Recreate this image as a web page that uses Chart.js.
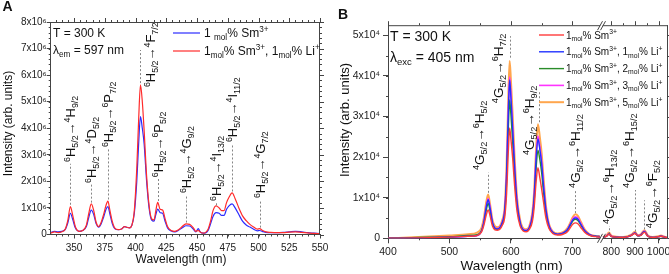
<!DOCTYPE html>
<html lang="en">
<head>
<meta charset="UTF-8">
<title>Sm3+ excitation and emission spectra</title>
<script src="https://cdn.jsdelivr.net/npm/chart.js"></script>
<style>
    body { margin: 0; background: #fff; }
    #wrap { position: relative; width: 669px; height: 274px; }
    #boxA { position: absolute; left: 0; top: 0; width: 330px; height: 274px; }
    #boxB { position: absolute; left: 330px; top: 0; width: 339px; height: 274px; }
</style>
</head>
<body>
<div id="wrap">
    <div id="boxA"><canvas id="chartA"></canvas></div>
    <div id="boxB"><canvas id="chartB"></canvas></div>
</div>
<script>
// ---------- panel A: excitation, intensity in 10^6 ----------
const wavelengthA = [331,334,337,340,343,345,347,349,351,354,357,360,362,364,366,368,370,372,374,376,377.5,379,381,383,386,389,391,393,395,397,399,401,402.5,404,405.5,407,409,411,413,415,416.5,418,420,422,424,426,429,432,435,438,441,444,447,449,451,452.5,455,457,459,461,463,465.5,468,470,472,474,476,478.5,481,484,487,490,493,496,499,501,503,506,510,515,520,525,530,535,540,545,550];
const smA =   [0.08,0.12,0.10,0.12,0.20,0.45,0.80,0.55,0.25,0.12,0.15,0.30,0.65,0.92,0.75,0.40,0.28,0.40,0.65,0.95,1.05,0.80,0.42,0.22,0.18,0.22,0.30,0.27,0.25,0.35,0.80,2.00,3.40,4.44,4.00,3.40,2.00,1.00,0.55,0.50,0.75,0.96,0.82,0.80,0.50,0.25,0.13,0.10,0.16,0.25,0.33,0.32,0.20,0.10,0.22,0.10,0.05,0.06,0.15,0.40,0.68,0.82,0.80,0.72,0.72,0.95,1.08,1.15,1.00,0.75,0.50,0.36,0.28,0.20,0.14,0.15,0.12,0.08,0.07,0.07,0.08,0.10,0.12,0.10,0.07,0.05,0.03];
const smLiA = [0.05,0.10,0.07,0.10,0.22,0.55,1.05,0.70,0.30,0.12,0.15,0.35,0.80,1.15,0.90,0.45,0.30,0.45,0.75,1.10,1.26,0.95,0.50,0.25,0.18,0.22,0.30,0.27,0.25,0.35,0.90,2.50,4.30,5.63,5.00,3.90,2.20,1.10,0.60,0.55,0.90,1.21,0.95,0.92,0.60,0.30,0.15,0.12,0.18,0.30,0.40,0.38,0.25,0.12,0.15,0.10,0.05,0.08,0.20,0.50,0.90,1.08,1.00,0.90,0.90,1.20,1.40,1.57,1.35,1.00,0.70,0.52,0.38,0.28,0.20,0.22,0.16,0.10,0.08,0.07,0.07,0.09,0.10,0.08,0.06,0.04,0.03];
const namesA = ['1 _{mol}% Sm^{3+}', '1_{mol}% Sm^{3+}, 1_{mol}% Li^{+}'];
const xTicksA = [350, 375, 400, 425, 450, 475, 500, 525, 550];
const yTicksA = [0, 1, 2, 3, 4, 5, 6, 7, 8];
// transitions: wavelength, dashed line from/to, text start (all data units)
const transitionsA = [
    { at: 347,   from: 1.12, to: 2.66, textAt: 2.73, dx: 0,  text: '^{6}H_{5/2}→^{4}H_{9/2}' },
    { at: 364,   from: 1.20, to: 1.90, textAt: 1.94, dx: 0,  text: '^{6}H_{5/2}→^{4}D_{5/2}' },
    { at: 377.5, from: 1.32, to: 3.25, textAt: 3.29, dx: 0,  text: '^{6}H_{5/2}→^{6}P_{7/2}' },
    { at: 404,   from: 5.70, to: 6.95, textAt: 5.55, dx: 10, text: '^{6}H_{5/2}→^{4}F_{7/2}' },
    { at: 418,   from: 1.26, to: 2.10, textAt: 2.16, dx: 0,  text: '^{6}H_{5/2}→^{6}P_{5/2}' },
    { at: 441,   from: 0.45, to: 1.50, textAt: 1.56, dx: 0,  text: '^{6}H_{5/2}→^{4}G_{9/2}' },
    { at: 465.5, from: 1.10, to: 1.22, textAt: 1.26, dx: 0,  text: '^{6}H_{5/2}→^{4}I_{13/2}' },
    { at: 478.5, from: 1.62, to: 3.42, textAt: 3.48, dx: 0,  text: '^{6}H_{5/2}→^{4}I_{11/2}' },
    { at: 501,   from: 0.26, to: 1.32, textAt: 1.37, dx: 0,  text: '^{6}H_{5/2}→^{4}G_{7/2}' }
];

// ---------- panel B: emission, intensity in 10^4 (755 = axis break) ----------
const wavelengthB = [400,450,500,530,545,552,556,560,563,566,570,574,578,582,586,590,593,596,598,600,603,606,610,615,620,625,630,635,638,641,644,647,650,653,657,662,668,676,685,692,697,701,705,709,714,720,728,738,745,755,765,780,790,800,820,850,870,885,900,912,925,940,955,975,1000,1010,1025,1040];
const li0B = [0,0.01,0.03,0.05,0.07,0.15,0.32,0.58,0.70,0.56,0.30,0.21,0.20,0.22,0.32,0.52,1.10,2.20,2.72,2.45,1.95,1.30,0.66,0.30,0.18,0.16,0.22,0.42,0.78,1.38,1.74,1.50,1.22,0.90,0.50,0.24,0.12,0.08,0.10,0.16,0.27,0.35,0.38,0.36,0.26,0.15,0.07,0.04,0.03,null,0.03,0.05,0.10,0.05,0.03,0.02,0.04,0.07,0.12,0.06,0.07,0.15,0.05,0.02,0.04,0.05,0.03,0.01];
const li1B = [0,0.01,0.03,0.05,0.07,0.17,0.40,0.78,0.95,0.75,0.39,0.25,0.23,0.26,0.39,0.70,1.57,3.20,3.90,3.48,2.65,1.76,0.88,0.39,0.21,0.19,0.26,0.56,1.05,1.95,2.45,2.20,1.85,1.30,0.70,0.31,0.15,0.10,0.13,0.21,0.35,0.46,0.50,0.47,0.34,0.19,0.09,0.05,0.04,null,0.03,0.05,0.11,0.05,0.03,0.02,0.04,0.07,0.13,0.06,0.08,0.17,0.05,0.02,0.04,0.05,0.03,0.01];
const li2B = [0,0.02,0.04,0.07,0.09,0.18,0.38,0.70,0.86,0.68,0.36,0.24,0.22,0.25,0.37,0.63,1.40,2.80,3.41,3.05,2.35,1.55,0.80,0.36,0.20,0.18,0.25,0.50,0.95,1.72,2.17,1.95,1.62,1.15,0.62,0.28,0.14,0.09,0.12,0.20,0.33,0.43,0.47,0.44,0.32,0.18,0.08,0.05,0.04,null,0.03,0.05,0.11,0.05,0.03,0.02,0.04,0.07,0.13,0.06,0.08,0.16,0.05,0.02,0.04,0.05,0.03,0.01];
const li3B = [0,0.01,0.03,0.05,0.07,0.18,0.42,0.80,0.98,0.78,0.40,0.26,0.24,0.27,0.40,0.72,1.60,3.25,3.97,3.55,2.70,1.80,0.90,0.40,0.22,0.20,0.27,0.58,1.08,2.00,2.52,2.25,1.90,1.35,0.72,0.32,0.15,0.10,0.13,0.22,0.36,0.48,0.53,0.50,0.36,0.20,0.09,0.05,0.04,null,0.03,0.06,0.12,0.06,0.03,0.02,0.04,0.08,0.14,0.07,0.09,0.18,0.06,0.02,0.04,0.06,0.03,0.01];
const li5B = [0,0.03,0.07,0.10,0.14,0.25,0.50,0.90,1.08,0.85,0.45,0.30,0.27,0.30,0.45,0.80,1.80,3.60,4.37,3.90,3.00,2.00,1.00,0.45,0.25,0.22,0.30,0.65,1.20,2.20,2.81,2.50,2.10,1.50,0.80,0.35,0.17,0.12,0.15,0.25,0.40,0.53,0.59,0.55,0.40,0.22,0.10,0.06,0.05,null,0.04,0.07,0.14,0.07,0.04,0.03,0.05,0.09,0.16,0.08,0.10,0.20,0.07,0.03,0.05,0.07,0.04,0.02];
const namesB = [
    '1_{mol}% Sm^{3+}',
    '1_{mol}% Sm^{3+}, 1_{mol}% Li^{+}',
    '1_{mol}% Sm^{3+}, 2_{mol}% Li^{+}',
    '1_{mol}% Sm^{3+}, 3_{mol}% Li^{+}',
    '1_{mol}% Sm^{3+}, 5_{mol}% Li^{+}'
];
const xTicksB = [400, 500, 600, 700, 800, 900, 1000];
const yTicksB = [0, 1, 2, 3, 4, 5];
const transitionsB = [
    { at: 563, from: 1.12, to: 1.62, textAt: 1.68, dx: -9,  text: '^{4}G_{5/2}→^{6}H_{5/2}' },
    { at: 598, from: 4.45, to: 4.98, textAt: 3.33, dx: -12, text: '^{4}G_{5/2}→^{6}H_{7/2}' },
    { at: 645, from: 2.86, to: 3.62, textAt: 2.05, dx: -10, text: '^{4}G_{5/2}→^{6}H_{9/2}' },
    { at: 705, from: 0.62, to: 1.19, textAt: 1.24, dx: 0,   text: '^{4}G_{5/2}→^{6}H_{11/2}' },
    { at: 790, from: 0.10, to: 0.30, textAt: 0.35, dx: 0,   text: '^{4}G_{5/2}→^{6}H_{13/2}' },
    { at: 900, from: 0.17, to: 1.19, textAt: 1.24, dx: -6,  text: '^{4}G_{5/2}→^{6}H_{15/2}' },
    { at: 940, from: 0.22, to: 0.94, textAt: 0.25, dx: 8,   text: '^{4}G_{5/2}→^{6}F_{5/2}' }
];
const breakB = { leftEnd: 745, rightStart: 765, split: 0.7625, gap: 3 };

const FONT = '"Liberation Sans", Arial, Helvetica, sans-serif';

// x scale with a gap between 745 and 765 nm, right part compressed
class BrokenLinearScale extends Chart.LinearScale {
    getPixelForValue(value) {
        const L = this.left, R = this.right;
        const mid = L + (R - L) * breakB.split;
        if (value <= breakB.leftEnd) {
            return L + (value - this.min) / (breakB.leftEnd - this.min) * (mid - breakB.gap / 2 - L);
        }
        const s = mid + breakB.gap / 2;
        return s + (value - breakB.rightStart) / (this.max - breakB.rightStart) * (R - s);
    }
    getValueForPixel(pixel) {
        const L = this.left, R = this.right;
        const mid = L + (R - L) * breakB.split;
        if (pixel <= mid) {
            return this.min + (pixel - L) / (mid - breakB.gap / 2 - L) * (breakB.leftEnd - this.min);
        }
        const s = mid + breakB.gap / 2;
        return breakB.rightStart + (pixel - s) / (R - s) * (this.max - breakB.rightStart);
    }
}
BrokenLinearScale.id = 'brokenLinear';
BrokenLinearScale.defaults = Chart.LinearScale.defaults;
Chart.register(BrokenLinearScale);

// tiny markup: ^{sup} _{sub}
function parseRich(str) {
    const out = [];
    const re = /\^\{([^}]*)\}|_\{([^}]*)\}|([^^_]+)/g;
    let m;
    while ((m = re.exec(str))) {
        if (m[1] !== undefined) out.push({ t: m[1], k: 'sup' });
        else if (m[2] !== undefined) out.push({ t: m[2], k: 'sub' });
        else out.push({ t: m[3], k: 'n' });
    }
    return out;
}

function drawRich(ctx, str, x, y, fs, vertical) {
    ctx.save();
    ctx.translate(x, y);
    if (vertical) ctx.rotate(-Math.PI / 2);
    ctx.fillStyle = '#111';
    ctx.textBaseline = 'alphabetic';
    ctx.textAlign = 'left';
    let cx = 0;
    for (const p of parseRich(str)) {
        const size = p.k === 'n' ? fs : fs * 0.68;
        const dy = p.k === 'sup' ? -fs * 0.42 : (p.k === 'sub' ? fs * 0.22 : 0);
        ctx.font = size + 'px ' + FONT;
        ctx.fillText(p.t, cx, dy);
        cx += ctx.measureText(p.t).width;
    }
    ctx.restore();
}

function drawText(ctx, str, x, y, fs, vertical, weight) {
    ctx.save();
    ctx.translate(x, y);
    if (vertical) ctx.rotate(-Math.PI / 2);
    ctx.fillStyle = '#111';
    ctx.font = (weight || '') + ' ' + fs + 'px ' + FONT;
    ctx.textAlign = 'center';
    ctx.textBaseline = 'middle';
    ctx.fillText(str, 0, 0);
    ctx.restore();
}

function decorations(cfg) {
    return {
        id: 'decorations',
        afterDraw(chart) {
            const ctx = chart.ctx, a = chart.chartArea;
            const xs = chart.scales.x, ys = chart.scales.y;
            const nearGap = v => cfg.brk && v > cfg.brk.leftEnd - 1 && v < cfg.brk.rightStart;
            ctx.save();
            ctx.strokeStyle = '#444';
            ctx.lineWidth = 1;
            ctx.beginPath();
            ctx.moveTo(a.left, a.top + 0.5); ctx.lineTo(a.right, a.top + 0.5);
            ctx.moveTo(a.right - 0.5, a.top); ctx.lineTo(a.right - 0.5, a.bottom);
            // mirrored major ticks
            xs.ticks.forEach(t => {
                const px = Math.round(xs.getPixelForValue(t.value)) + 0.5;
                ctx.moveTo(px, a.top); ctx.lineTo(px, a.top - 4);
            });
            ys.ticks.forEach(t => {
                const py = Math.round(ys.getPixelForValue(t.value)) + 0.5;
                ctx.moveTo(a.right, py); ctx.lineTo(a.right + 4, py);
            });
            // minor ticks
            for (let v = Math.ceil(xs.min / cfg.minorX) * cfg.minorX; v <= xs.max; v += cfg.minorX) {
                if (nearGap(v)) continue;
                const px = Math.round(xs.getPixelForValue(v)) + 0.5;
                ctx.moveTo(px, a.bottom); ctx.lineTo(px, a.bottom + 2);
                ctx.moveTo(px, a.top); ctx.lineTo(px, a.top - 2);
            }
            for (let v = cfg.minorY; v <= ys.max; v += cfg.minorY) {
                const py = Math.round(ys.getPixelForValue(v)) + 0.5;
                ctx.moveTo(a.left, py); ctx.lineTo(a.left - 2, py);
                ctx.moveTo(a.right, py); ctx.lineTo(a.right + 2, py);
            }
            ctx.stroke();

            // axis break marks
            if (cfg.brk) {
                const g1 = xs.getPixelForValue(cfg.brk.leftEnd);
                const g2 = xs.getPixelForValue(cfg.brk.rightStart);
                ctx.fillStyle = '#fff';
                ctx.fillRect(g1 + 0.3, a.top - 1, g2 - g1 - 0.6, 3);
                ctx.fillRect(g1 + 0.3, a.bottom - 1.5, g2 - g1 - 0.6, 3);
                ctx.beginPath();
                [a.top + 0.5, a.bottom].forEach(yy => {
                    [g1, g2].forEach(g => {
                        ctx.moveTo(g - 2.5, yy + 4.5);
                        ctx.lineTo(g + 2.5, yy - 4.5);
                    });
                });
                ctx.stroke();
            }

            // transitions
            cfg.transitions.forEach(tr => {
                const lx = Math.round(xs.getPixelForValue(tr.at)) + 0.5;
                ctx.save();
                ctx.setLineDash([2, 2]);
                ctx.strokeStyle = '#666';
                ctx.lineWidth = 0.8;
                ctx.beginPath();
                ctx.moveTo(lx, ys.getPixelForValue(tr.from));
                ctx.lineTo(lx, ys.getPixelForValue(tr.to));
                ctx.stroke();
                ctx.restore();
                drawRich(ctx, tr.text, lx + tr.dx + cfg.annFs * 0.36, ys.getPixelForValue(tr.textAt), cfg.annFs, true);
            });

            // legend
            const lg = cfg.legend;
            chart.data.datasets.forEach((ds, i) => {
                const yy = lg.y0 + lg.dy * i;
                ctx.strokeStyle = ds.borderColor;
                ctx.lineWidth = ds.borderWidth;
                ctx.beginPath();
                ctx.moveTo(lg.x0, yy); ctx.lineTo(lg.x1, yy);
                ctx.stroke();
                drawRich(ctx, ds.label, lg.tx, yy + lg.fs * 0.36, lg.fs, false);
            });

            // conditions
            cfg.info.forEach(t => drawRich(ctx, t.text, t.x, t.y, cfg.infoFs, false));

            // axis titles and panel letter
            drawText(ctx, 'Intensity (arb. units)', cfg.yTitle.x, cfg.yTitle.y, cfg.titleFs, true);
            drawText(ctx, 'Wavelength (nm)', cfg.xTitle.x, cfg.xTitle.y, cfg.xTitleFs, false);
            drawText(ctx, cfg.letter.text, cfg.letter.x, cfg.letter.y, 14, false, 'bold');
            ctx.restore();
        }
    };
}

function axisStyle(fontSize, tickLen, pad, callback) {
    return {
        grid: { drawOnChartArea: false, drawTicks: true, tickLength: tickLen, color: '#444' },
        border: { display: true, color: '#444', width: 1 },
        ticks: { color: '#222', padding: pad, font: { family: FONT, size: fontSize }, callback: callback }
    };
}

function series(xs, ys) {
    return xs.map((w, i) => ({ x: w, y: ys[i] }));
}

const plainLabel = v => String(v);

// ---------- chart A ----------
new Chart(document.getElementById('chartA'), {
    type: 'line',
    data: {
        datasets: [
            { label: namesA[0], data: series(wavelengthA, smA), borderColor: '#2b2bff', borderWidth: 1.2, order: 1 },
            { label: namesA[1], data: series(wavelengthA, smLiA), borderColor: '#ff2b2b', borderWidth: 1.2, order: 0 }
        ]
    },
    options: {
        responsive: true,
        maintainAspectRatio: false,
        animation: false,
        devicePixelRatio: 1,
        layout: { padding: { top: 22, right: 10, left: 0, bottom: 0 } },
        plugins: { legend: { display: false }, tooltip: { enabled: false } },
        elements: { point: { radius: 0 }, line: { cubicInterpolationMode: 'monotone', fill: false } },
        scales: {
            x: Object.assign(axisStyle(10, 4, 4, plainLabel), {
                type: 'linear', min: 331, max: 550,
                afterBuildTicks: s => { s.ticks = xTicksA.map(v => ({ value: v })); },
                afterFit: s => { s.height = 39.5; s.paddingLeft = 0; s.paddingRight = 0; }
            }),
            y: Object.assign(axisStyle(10, 4, 0, v => v === 0 ? '0' : v + 'x10⁶'), {
                type: 'linear', min: 0, max: 8,
                afterBuildTicks: s => { s.ticks = yTicksA.map(v => ({ value: v })); },
                afterFit: s => { s.width = 50.7; s.paddingTop = 0; s.paddingBottom = 0; }
            })
        }
    },
    plugins: [decorations({
        transitions: transitionsA, annFs: 13, minorX: 5, minorY: 0.2,
        legend: { x0: 173, x1: 200, tx: 204, y0: 33, dy: 18, fs: 12 },
        info: [{ text: 'T = 300 K', x: 53, y: 37 }, { text: 'λ_{em} = 597 nm', x: 53, y: 54 }],
        infoFs: 12,
        yTitle: { x: 9, y: 123.5 }, xTitle: { x: 181, y: 260 }, titleFs: 12, xTitleFs: 12,
        letter: { text: 'A', x: 7.5, y: 7 }
    })]
});

// ---------- chart B ----------
new Chart(document.getElementById('chartB'), {
    type: 'line',
    data: {
        datasets: [
            { label: namesB[0], data: series(wavelengthB, li0B), borderColor: '#ff3b3b', borderWidth: 1.4 },
            { label: namesB[1], data: series(wavelengthB, li1B), borderColor: '#2233ff', borderWidth: 1.4 },
            { label: namesB[2], data: series(wavelengthB, li2B), borderColor: '#2a8c2a', borderWidth: 1.4 },
            { label: namesB[3], data: series(wavelengthB, li3B), borderColor: '#ff33ff', borderWidth: 1.6 },
            { label: namesB[4], data: series(wavelengthB, li5B), borderColor: '#ffa64d', borderWidth: 2 }
        ]
    },
    options: {
        responsive: true,
        maintainAspectRatio: false,
        animation: false,
        devicePixelRatio: 1,
        layout: { padding: { top: 25.2, right: 1, left: 0, bottom: 0 } },
        plugins: { legend: { display: false }, tooltip: { enabled: false } },
        elements: { point: { radius: 0 }, line: { cubicInterpolationMode: 'monotone', fill: false } },
        spanGaps: false,
        scales: {
            x: Object.assign(axisStyle(10.5, 5, 3, plainLabel), {
                type: 'brokenLinear', min: 400, max: 1040,
                afterBuildTicks: s => { s.ticks = xTicksB.map(v => ({ value: v })); },
                afterFit: s => { s.height = 35.7; s.paddingLeft = 0; s.paddingRight = 0; }
            }),
            y: Object.assign(axisStyle(10.5, 5, 3, v => v === 0 ? '0' : v + 'x10⁴'), {
                type: 'linear', min: 0, max: 5.25,
                afterBuildTicks: s => { s.ticks = yTicksB.map(v => ({ value: v })); },
                afterFit: s => { s.width = 58; s.paddingTop = 0; s.paddingBottom = 0; }
            })
        }
    },
    plugins: [decorations({
        transitions: transitionsB, annFs: 13.5, minorX: 50, minorY: 0.5, brk: breakB,
        legend: { x0: 209, x1: 234, tx: 236, y0: 35, dy: 16.8, fs: 10 },
        info: [{ text: 'T = 300 K', x: 60, y: 41 }, { text: 'λ_{exc} = 405 nm', x: 60, y: 62 }],
        infoFs: 14,
        yTitle: { x: 15.3, y: 120 }, xTitle: { x: 181.7, y: 266 }, titleFs: 13, xTitleFs: 13.5,
        letter: { text: 'B', x: 13, y: 15 }
    })]
});
</script>
</body>
</html>
